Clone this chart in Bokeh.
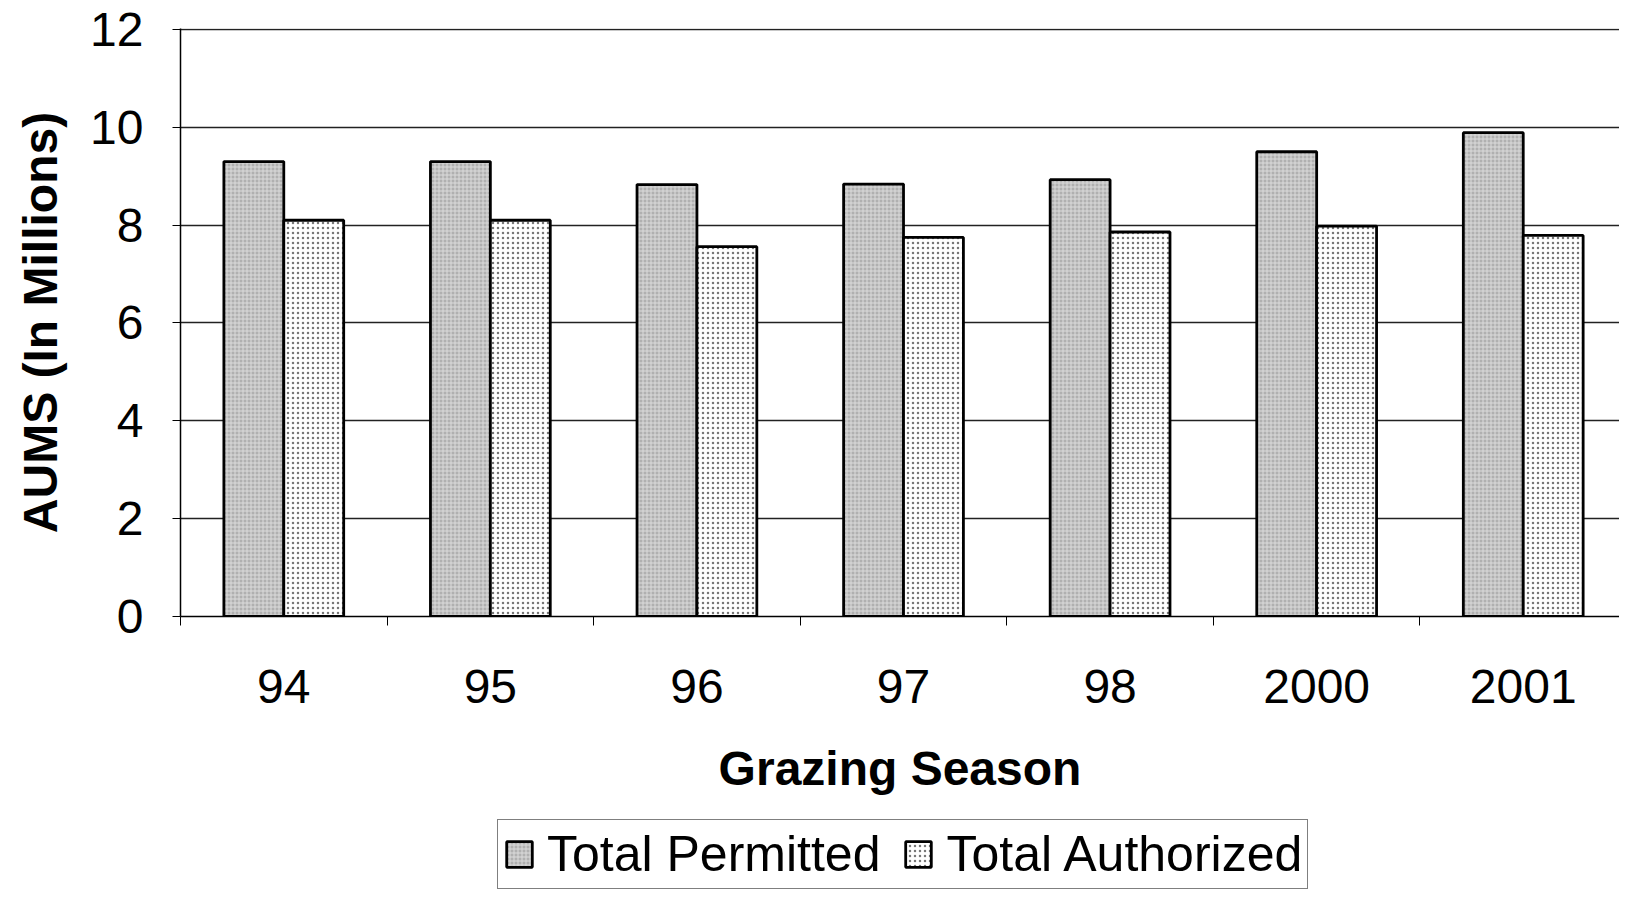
from bokeh.plotting import figure
from bokeh.layouts import column
from bokeh.models import Range1d, FixedTicker, Legend, LegendItem, ColumnDataSource
from bokeh.embed import file_html
from bokeh.resources import INLINE

seasons = ["94", "95", "96", "97", "98", "2000", "2001"]
permitted = [9.30, 9.30, 8.83, 8.84, 8.93, 9.50, 9.89]
authorized = [8.10, 8.10, 7.56, 7.75, 7.86, 7.98, 7.79]
y_ticks = [0, 2, 4, 6, 8, 10, 12]
series_names = ["Total Permitted", "Total Authorized"]

FONT = "Liberation Sans"
BW = 0.29
centers = [i + 0.5 for i in range(len(seasons))]

src = ColumnDataSource(dict(
    xp=[c - BW / 2 for c in centers],
    xa=[c + BW / 2 for c in centers],
    permitted=permitted,
    authorized=authorized,
))

STYLE_P = dict(fill_color="#b0b0b0", hatch_pattern="+", hatch_color="#dcdcdc",
               hatch_scale=4, hatch_weight=1, line_color="black", line_width=2.8)
STYLE_A = dict(fill_color="white", hatch_pattern=".", hatch_color="#777777",
               hatch_scale=5, hatch_weight=1, line_color="black", line_width=2.8)

p = figure(width=1619, height=812, output_backend="svg", toolbar_location=None,
           x_range=Range1d(0, 6.966), y_range=Range1d(0, 12.02),
           min_border_left=180, min_border_right=0, min_border_top=28,
           min_border_bottom=196, outline_line_color=None)

p.vbar(x="xp", top="permitted", width=BW, source=src, **STYLE_P)
p.vbar(x="xa", top="authorized", width=BW, source=src, **STYLE_A)

# x axis: labels at centers, ticks at category boundaries
p.xaxis.ticker = FixedTicker(ticks=centers, minor_ticks=list(range(len(seasons) + 1)))
p.xaxis.major_label_overrides = {c: s for c, s in zip(centers, seasons)}
p.xaxis.major_tick_out = 0
p.xaxis.major_tick_in = 0
p.xaxis.minor_tick_out = 9
p.xaxis.minor_tick_in = 0
p.xaxis.minor_tick_line_color = "black"
p.xaxis.axis_line_color = "black"
p.xaxis.axis_line_width = 1.5
p.xaxis.major_label_text_font = FONT
p.xaxis.major_label_text_font_size = "48px"
p.xaxis.major_label_text_color = "black"
p.xaxis.major_label_standoff = 44
p.xaxis.axis_label = "Grazing Season"
p.xaxis.axis_label_text_font = FONT
p.xaxis.axis_label_text_font_size = "48px"
p.xaxis.axis_label_text_font_style = "bold"
p.xaxis.axis_label_text_color = "black"
p.xaxis.axis_label_standoff = 36

# y axis
p.yaxis.ticker = FixedTicker(ticks=y_ticks, minor_ticks=[])
p.yaxis.major_tick_out = 8
p.yaxis.major_tick_in = 0
p.yaxis.major_tick_line_color = "black"
p.yaxis.axis_line_color = "black"
p.yaxis.axis_line_width = 1.5
p.yaxis.major_label_text_font = FONT
p.yaxis.major_label_text_font_size = "48px"
p.yaxis.major_label_text_color = "black"
p.yaxis.major_label_standoff = 29
p.yaxis.axis_label = "AUMS (In Millions)"
p.yaxis.axis_label_text_font = FONT
p.yaxis.axis_label_text_font_size = "48px"
p.yaxis.axis_label_text_font_style = "bold"
p.yaxis.axis_label_text_color = "black"
p.yaxis.axis_label_standoff = 20

p.xgrid.grid_line_color = None
p.ygrid.ticker = FixedTicker(ticks=y_ticks[1:])
p.ygrid.grid_line_color = "#222222"
p.ygrid.grid_line_width = 1.3

# legend strip (separate figure below the chart), ranges in pixel-like units
p2 = figure(width=1619, height=78, output_backend="svg", toolbar_location=None,
            x_axis_type=None, y_axis_type=None,
            x_range=Range1d(0, 1439), y_range=Range1d(0, 78),
            min_border_left=180, min_border_right=0, min_border_top=0, min_border_bottom=0,
            outline_line_color=None)
p2.xgrid.grid_line_color = None
p2.ygrid.grid_line_color = None
# legend-only renderers: tiny bars hidden behind the opaque legend box
d1 = p2.vbar(x=[700], top=[35], bottom=[34], width=2, **STYLE_P)
d2 = p2.vbar(x=[700], top=[35], bottom=[34], width=2, **STYLE_A)

legend = Legend(items=[LegendItem(label=series_names[0], renderers=[d1]),
                       LegendItem(label=series_names[1], renderers=[d2])],
                orientation="horizontal", location=(317, 1),
                label_text_font=FONT, label_text_font_size="50px",
                label_text_color="black",
                glyph_width=32, glyph_height=32, label_standoff=12,
                spacing=22, padding=5, margin=0,
                border_line_color="black", border_line_width=1.3,
                background_fill_color="white", background_fill_alpha=1.0)
p2.add_layout(legend, "center")

layout = column(p, p2, spacing=0)
open("out.html", "w").write(file_html(layout, INLINE))
